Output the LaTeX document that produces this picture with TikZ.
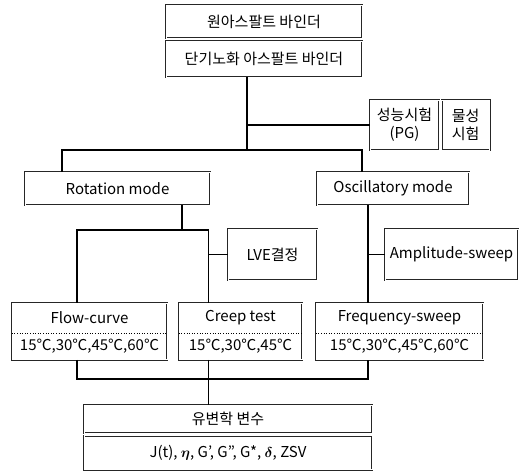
\documentclass[tikz,border=0pt]{standalone}
\usepackage{amsmath}
\usepackage{fontspec}
\setmainfont{Noto Sans CJK KR}
\usetikzlibrary{fit, positioning}
\tikzset{
box/.style={shape=rectangle, draw=black!85, double=white, double distance=0.6pt, line width=0.6pt, inner sep=0, align=center, font=\fontsize{15}{18}\selectfont},
cell/.style={shape=rectangle, inner sep=0, font=\fontsize{15}{18}\selectfont},
link/.style={line width=1.2pt},
sep/.style={dotted, line width=0.6pt}}

\begin{document}
\begin{tikzpicture}[x=1pt, y=1pt]
\useasboundingbox (0,0) rectangle (528,-471);
\node [box, minimum width=196pt, minimum height=33pt] at (264,-21.5) (orig) {원아스팔트 바인더};
\node [box, minimum width=196pt, minimum height=36pt] at (264,-59) (aged) {단기노화 아스팔트 바인더};
\node [box, minimum width=69pt, minimum height=50pt] at (404.5,-125) (pg) {성능시험\\(PG)};
\node [box, minimum width=48pt, minimum height=50pt, right=2pt of pg] (phys) {물성\\시험};
\node [box, minimum width=185pt, minimum height=33pt] at (117.5,-188.5) (rot) {Rotation mode};
\node [box, minimum width=152pt, minimum height=33pt] at (393,-188.5) (osc) {Oscillatory mode};
\node [box, minimum width=89pt, minimum height=51pt] at (272.5,-254.5) (lve) {LVE결정};
\node [box, minimum width=133pt, minimum height=51pt] at (451.5,-254.5) (amp) {Amplitude-sweep};
\foreach \tname/\tx/\tw/\ttitle/\ttemp in {flow/89.5/155/Flow-curve/{15℃,30℃,45℃,60℃}, creep/240.5/123/Creep test/{15℃,30℃,45℃}, freq/399.5/167/Frequency-sweep/{15℃,30℃,45℃,60℃}}{
  \node [cell, minimum width=\tw pt, minimum height=30pt] at (\tx,-318) (\tname-t) {\ttitle};
  \node [cell, minimum width=\tw pt, minimum height=26pt, below=0pt of \tname-t] (\tname-c) {\ttemp};
  \node [box, fit=(\tname-t)(\tname-c)] (\tname) {};
  \draw [sep] (\tname-t.south west) -- (\tname-t.south east);
}
\node [box, minimum width=288pt, minimum height=28pt] at (228,-419) (params) {유변학 변수};
\node [box, minimum width=288pt, minimum height=34pt, below=2pt of params] (vals) {J(t),\ $\boldsymbol{\eta}$,\ G',\ G",\ G*,\ $\boldsymbol{\delta}$,\ ZSV};

\coordinate (modes) at (247,-150);
\coordinate (rbus) at (182,-230);
\coordinate (lvej) at (208.5,-254.5);
\coordinate (oscj) at (368,-254.5);
\coordinate (tbus) at (208.5,-379);
\draw [link] (aged.south -| modes) -- (modes);
\draw [link] (pg.west) -- (pg.west -| modes);
\draw [link] ([xshift=-55.5pt]rot.north) |- (modes) -| ([xshift=-31pt]osc.north);
\draw [link] (rot.south -| rbus) -- (rbus);
\draw [link] ([xshift=-12.5pt]flow.north) |- (rbus) -| (creep.north -| lvej);
\draw [link] (lve.west) -- (lvej);
\draw [link] (osc.south -| oscj) -- (freq.north -| oscj);
\draw [link] (amp.west) -- (oscj);
\draw [link] ([xshift=-12.5pt]flow.south) |- (tbus) -| (freq.south -| oscj);
\draw [link] (creep.south -| tbus) -- (params.north -| tbus);
\end{tikzpicture}
\end{document}
